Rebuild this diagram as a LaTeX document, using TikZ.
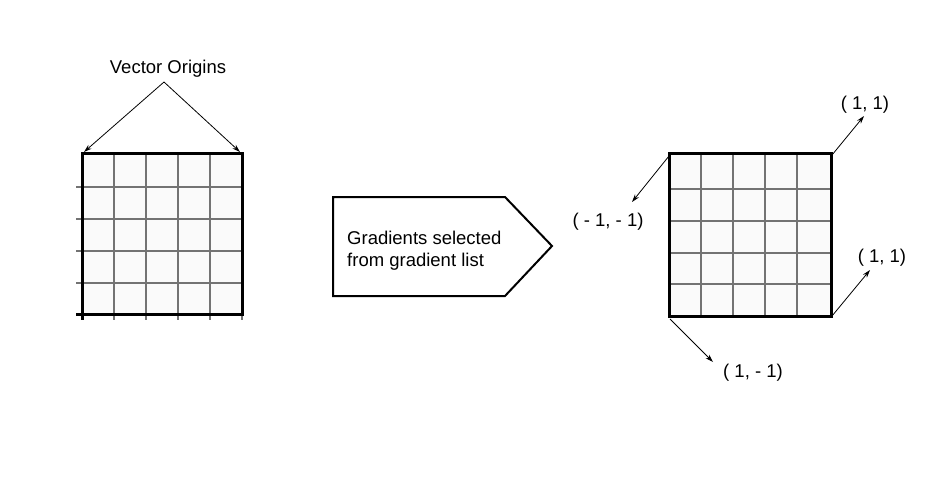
\documentclass[tikz,border=0pt]{standalone}
\usepackage{fontspec}
\setmainfont{Liberation Sans}
\usetikzlibrary{arrows.meta}
\begin{document}
\begin{tikzpicture}[x=1pt,y=-1pt]
  \tikzstyle{lbl}=[font=\fontsize{18.5}{22}\selectfont, inner sep=0pt]
  \tikzstyle{vec}=[-{Stealth[length=8pt,width=5pt]}, line width=0.8pt]
  \tikzstyle{cell}=[black!55, line width=2.4pt]
  \tikzstyle{rim}=[line width=3pt]
  \useasboundingbox (0,0) rectangle (942,498);
  % left grid
  \fill[black!2] (82,153) rectangle (242,314);
  \foreach \y in {187,219,251,283} \draw[cell] (76,\y) -- (242,\y);
  \foreach \x in {114,146,178,210,242} \draw[cell] (\x,153) -- (\x,320);
  \draw[rim] (76,314) -- (242,314) -- (242,153) -- (82,153) -- (82,320);
  \coordinate (ltl) at (84,152);
  \coordinate (ltr) at (240,152);
  \node[lbl] (origins) at (168,69) {Vector Origins};
  \coordinate (apex) at (164,82);
  \draw[vec] (apex) -- (ltl);
  \draw[vec] (apex) -- (ltr);
  % selection box
  \draw[line width=2pt] (333,197) -- (505,197) -- (552,246) -- (505,296) -- (333,296) -- cycle;
  \node[lbl, align=left, anchor=west] (select) at (347,251) {Gradients selected\\from gradient list};
  % right grid
  \fill[black!2] (669,153) rectangle (831,316);
  \foreach \y in {189,221,253,284} \draw[cell] (669,\y) -- (831,\y);
  \foreach \x in {701,733,765,797} \draw[cell] (\x,153) -- (\x,316);
  \draw[rim] (669,153) rectangle (831,316);
  \coordinate (rtl) at (669,156);
  \coordinate (rtr) at (832,155);
  \coordinate (rbl) at (670,319);
  \coordinate (rbr) at (832,316);
  \coordinate (tipa) at (632,202);
  \coordinate (tipb) at (864,116);
  \coordinate (tipc) at (870,270);
  \coordinate (tipd) at (713,362);
  \draw[vec] (rtl) -- (tipa);
  \draw[vec] (rtr) -- (tipb);
  \draw[vec] (rbr) -- (tipc);
  \draw[vec] (rbl) -- (tipd);
  \node[lbl] (mm) at (608,222) {( - 1, - 1)};
  \node[lbl] (pp) at (865,105) {( 1, 1)};
  \node[lbl] (pq) at (882,258) {( 1, 1)};
  \node[lbl] (pm) at (753,373) {( 1, - 1)};
\end{tikzpicture}
\end{document}
